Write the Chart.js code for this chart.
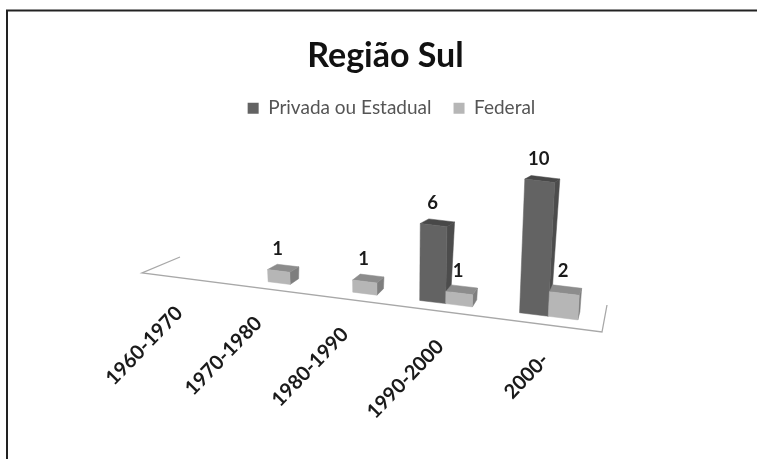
<!DOCTYPE html>
<html>
<head>
<meta charset="utf-8">
<title>Região Sul</title>
<script src="https://cdn.jsdelivr.net/npm/chart.js@4/dist/chart.umd.js"></script>
<style>
    html, body { margin: 0; padding: 0; background: #fff; overflow: hidden; }
    #box { width: 757px; height: 459px; }
    canvas { filter: blur(0.5px); }
</style>
</head>
<body>
<div id="box"><canvas id="myChart"></canvas></div>
<script>
var labels_ = ['1960-1970', '1970-1980', '1980-1990', '1990-2000', '2000-'];
var privada = [0, 0, 0, 6, 10];
var federal = [0, 1, 1, 1, 2];

var serieNames = ['Privada ou Estadual', 'Federal'];
var faces = {
    '#636363': { side: '#4c4c4c', top: '#484848' },
    '#b6b6b6': { side: '#7e7e7e', top: '#8c8c8c' }
};

// floor of the 3D plot, corners as seen in the picture
var A = { x: 142, y: 273 }, B = { x: 602, y: 332 };
var W = 0.79;          // perspective along the floor
var D1 = 0.33, D2 = 0.63;   // depth where the bars stand
var HMAX = 160;        // screen pixels of the whole y axis

function floorPt(u, d) {
    var s = u * W / ((1 - u) + u * W);
    return {
        x: A.x + (B.x - A.x) * s + d * (38 - 33 * s),
        y: A.y + (B.y - A.y) * s + d * (-16 - 11 * s)
    };
}
function project(u, d, h) {
    var p0 = floorPt(u, D1), p = floorPt(u, d);
    var sh = h * (0.9 + h / 1300);
    return {
        x: p0.x + (p.x - p0.x) * (1 + h / 150) + sh * 0.16 * (u - 0.6),
        y: p0.y + (p.y - p0.y) * (1 - h / 250) - sh
    };
}
function face(ctx, pts, color) {
    ctx.beginPath();
    ctx.moveTo(pts[0].x, pts[0].y);
    for (var i = 1; i < pts.length; i++) ctx.lineTo(pts[i].x, pts[i].y);
    ctx.closePath();
    ctx.fillStyle = color;
    ctx.strokeStyle = color;
    ctx.lineWidth = 0.5;
    ctx.fill();
    ctx.stroke();
}
// flat chart coordinates -> u along the axis and height on screen
function flat(chart, px) {
    return (px - chart.chartArea.left) / chart.chartArea.width;
}
function heightOf(chart, base, y) {
    return (base - y) / chart.chartArea.height * HMAX;
}

class Bar3dElement extends Chart.BarElement {
    draw(ctx) {
        var h = heightOf(this.$chart, this.base, this.y);
        if (h <= 0) return;
        var uL = flat(this.$chart, this.x - this.width / 2);
        var uR = flat(this.$chart, this.x + this.width / 2);
        var front = this.options.backgroundColor;
        ctx.save();
        face(ctx, [project(uR, D1, 0), project(uR, D2, 0), project(uR, D2, h), project(uR, D1, h)], faces[front].side);
        face(ctx, [project(uL, D1, h), project(uR, D1, h), project(uR, D2, h), project(uL, D2, h)], faces[front].top);
        face(ctx, [project(uL, D1, 0), project(uR, D1, 0), project(uR, D1, h), project(uL, D1, h)], front);
        ctx.restore();
    }
}
Bar3dElement.id = 'bar3d';
Bar3dElement.defaults = Chart.BarElement.defaults;

class Bar3dController extends Chart.BarController {
    updateElements(bars, start, count, mode) {
        super.updateElements(bars, start, count, mode);
        for (var i = start; i < start + count; i++) bars[i].$chart = this.chart;
    }
}
Bar3dController.id = 'bar3d';
Bar3dController.defaults = Object.assign({}, Chart.BarController.defaults, { dataElementType: 'bar3d' });
Bar3dController.overrides = Chart.BarController.overrides;

Chart.register(Bar3dElement, Bar3dController);

var scene = {
    id: 'scene',
    afterLayout: function (chart) {
        // legend sits a little right of the title
        chart.legend.left += 6;
        chart.legend.right += 6;
    },
    beforeDraw: function (chart) {
        var ctx = chart.ctx;
        ctx.save();
        ctx.strokeStyle = '#222222';
        ctx.lineWidth = 2;
        ctx.beginPath();
        ctx.moveTo(7, 459);
        ctx.lineTo(7, 10.5);
        ctx.lineTo(757, 10.5);
        ctx.stroke();
        ctx.restore();
    },
    beforeDatasetsDraw: function (chart) {
        var ctx = chart.ctx;
        var c = floorPt(1, 1), d = floorPt(0, 1);
        ctx.save();
        ctx.strokeStyle = '#a8a8a8';
        ctx.lineWidth = 1.3;
        ctx.beginPath();
        ctx.moveTo(d.x, d.y);
        ctx.lineTo(A.x, A.y);
        ctx.lineTo(B.x, B.y);
        ctx.lineTo(c.x, c.y);
        ctx.stroke();
        ctx.restore();
        // left to right, so Federal covers the side of Privada
        chart.data.datasets.forEach(function (ds, i) {
            chart.getDatasetMeta(i).controller.draw();
        });
        return false;
    },
    afterDraw: function (chart) {
        var ctx = chart.ctx;
        var scale = chart.scales.x;
        ctx.save();
        ctx.fillStyle = '#1a1a1a';
        ctx.font = 'bold 18.5px Lato';
        // values on top of the bars
        ctx.textAlign = 'center';
        ctx.textBaseline = 'middle';
        chart.data.datasets.forEach(function (ds, i) {
            chart.getDatasetMeta(i).data.forEach(function (bar, j) {
                if (!ds.data[j]) return;
                var p = project(flat(chart, bar.x), D1, heightOf(chart, bar.base, bar.y));
                ctx.fillText(ds.data[j], p.x - 1, p.y - 22);
            });
        });
        // category labels under the front edge of the floor
        ctx.font = 'bold 20px Lato';
        ctx.textAlign = 'right';
        scale.ticks.forEach(function (t, i) {
            var p = floorPt(flat(chart, scale.getPixelForTick(i)), 0);
            ctx.save();
            ctx.translate(p.x, p.y + 32);
            ctx.rotate(-46 * Math.PI / 180);
            ctx.fillText(scale.getLabelForValue(t.value), 0, 0);
            ctx.restore();
        });
        ctx.restore();
    }
};

var data = {
    labels: labels_,
    datasets: [
        { label: serieNames[0], data: privada, backgroundColor: '#636363', categoryPercentage: 0.54, barPercentage: 1 },
        { label: serieNames[1], data: federal, backgroundColor: '#b6b6b6', categoryPercentage: 0.54, barPercentage: 1 }
    ]
};

var config = {
    type: 'bar3d',
    data: data,
    plugins: [scene],
    options: {
        responsive: false,
        animation: false,
        layout: { padding: { left: 14, top: 36 } },
        plugins: {
            tooltip: { enabled: false },
            title: {
                display: true,
                text: 'Região Sul',
                color: '#111111',
                font: { family: 'Lato', size: 34, weight: 'bold' },
                padding: { top: 0, bottom: 0 }
            },
            legend: {
                display: true,
                position: 'top',
                labels: {
                    color: '#555555',
                    boxWidth: 11,
                    boxHeight: 11,
                    padding: 22,
                    font: { family: 'Lato', size: 19 }
                }
            }
        },
        scales: {
            x: { type: 'category', display: false, offset: true },
            y: { type: 'linear', display: false, min: 0, max: 12 }
        }
    }
};

var canvas = document.getElementById('myChart');
canvas.width = 757;
canvas.height = 459;
var myChart = new Chart(canvas, config);
</script>
</body>
</html>
